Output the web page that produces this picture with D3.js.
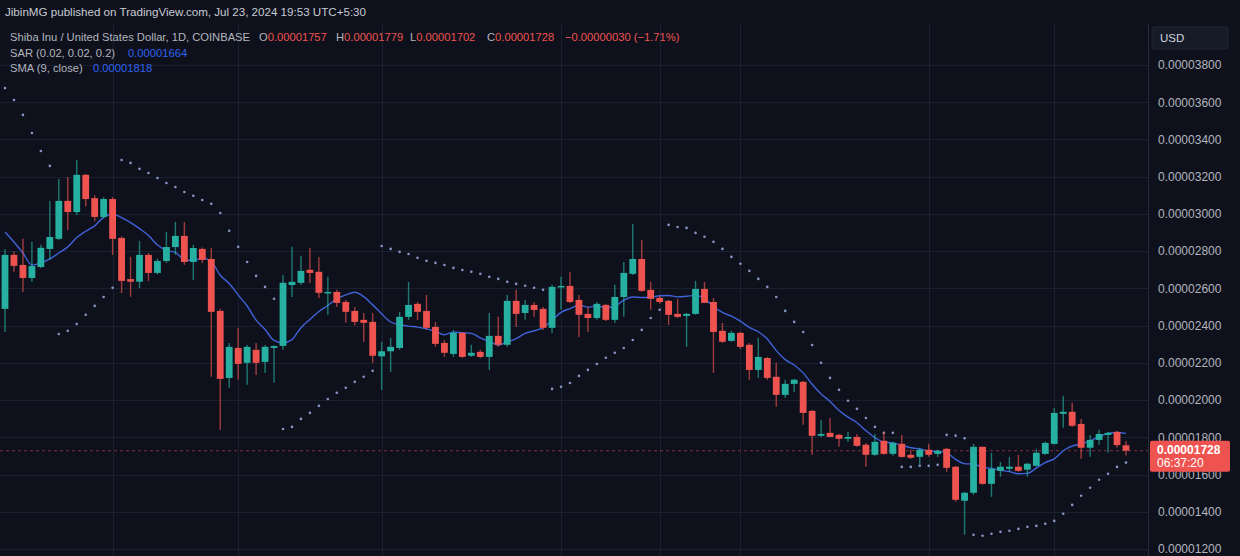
<!DOCTYPE html>
<html><head><meta charset="utf-8">
<script src="https://cdn.jsdelivr.net/npm/d3@7"></script>
<style>html,body{margin:0;padding:0;background:#0e111c;overflow:hidden}svg{display:block}</style>
</head><body><svg id="c" width="1240" height="556"></svg>
<script>
// ---- data (prices in USD) ----
const firstDate = "2024-03-20"; // daily candles, one per day
const openV  = [2490e-8,2780e-8,2726e-8,2656e-8,2715e-8,2812e-8,2866e-8,3070e-8,3010e-8,3210e-8,3085e-8,2984e-8,3080e-8,2871e-8,2650e-8,2636e-8,2780e-8,2683e-8,2747e-8,2822e-8,2882e-8,2742e-8,2812e-8,2758e-8,2479e-8,2119e-8,2280e-8,2200e-8,2270e-8,2205e-8,2280e-8,2291e-8,2618e-8,2630e-8,2700e-8,2689e-8,2576e-8,2581e-8,2527e-8,2479e-8,2431e-8,2420e-8,2235e-8,2262e-8,2280e-8,2447e-8,2517e-8,2479e-8,2393e-8,2307e-8,2248e-8,2361e-8,2238e-8,2259e-8,2232e-8,2345e-8,2297e-8,2533e-8,2468e-8,2511e-8,2490e-8,2388e-8,2608e-8,2613e-8,2538e-8,2463e-8,2441e-8,2511e-8,2431e-8,2554e-8,2678e-8,2758e-8,2592e-8,2549e-8,2533e-8,2463e-8,2452e-8,2463e-8,2597e-8,2527e-8,2372e-8,2318e-8,2361e-8,2297e-8,2162e-8,2226e-8,2125e-8,2028e-8,2087e-8,2098e-8,1942e-8,1808e-8,1824e-8,1813e-8,1792e-8,1802e-8,1760e-8,1706e-8,1781e-8,1711e-8,1765e-8,1706e-8,1695e-8,1733e-8,1711e-8,1738e-8,1642e-8,1459e-8,1502e-8,1749e-8,1550e-8,1620e-8,1631e-8,1642e-8,1626e-8,1647e-8,1711e-8,1765e-8,1926e-8,1937e-8,1872e-8,1744e-8,1786e-8,1813e-8,1829e-8,1757e-8];
const highV  = [2810e-8,2800e-8,2866e-8,2850e-8,2835e-8,3070e-8,3188e-8,3198e-8,3290e-8,3215e-8,3100e-8,3090e-8,3090e-8,2880e-8,2770e-8,2855e-8,2790e-8,2760e-8,2903e-8,2957e-8,2957e-8,2834e-8,2820e-8,2817e-8,2490e-8,2307e-8,2388e-8,2296e-8,2307e-8,2296e-8,2295e-8,2672e-8,2823e-8,2775e-8,2817e-8,2769e-8,2662e-8,2592e-8,2538e-8,2500e-8,2468e-8,2468e-8,2313e-8,2334e-8,2474e-8,2635e-8,2527e-8,2565e-8,2420e-8,2323e-8,2377e-8,2366e-8,2297e-8,2270e-8,2468e-8,2447e-8,2565e-8,2592e-8,2538e-8,2527e-8,2500e-8,2619e-8,2662e-8,2689e-8,2565e-8,2500e-8,2527e-8,2517e-8,2619e-8,2742e-8,2946e-8,2860e-8,2635e-8,2560e-8,2538e-8,2544e-8,2468e-8,2640e-8,2635e-8,2549e-8,2415e-8,2372e-8,2366e-8,2307e-8,2334e-8,2232e-8,2200e-8,2109e-8,2114e-8,2103e-8,1947e-8,1894e-8,1904e-8,1818e-8,1829e-8,1818e-8,1770e-8,1818e-8,1829e-8,1776e-8,1813e-8,1733e-8,1744e-8,1765e-8,1733e-8,1744e-8,1647e-8,1507e-8,1765e-8,1749e-8,1717e-8,1668e-8,1695e-8,1706e-8,1663e-8,1738e-8,1776e-8,1958e-8,2023e-8,1985e-8,1899e-8,1813e-8,1840e-8,1829e-8,1834e-8,1779e-8];
const lowV   = [2366e-8,2690e-8,2580e-8,2635e-8,2710e-8,2752e-8,2860e-8,2914e-8,2994e-8,3040e-8,2960e-8,2975e-8,2780e-8,2575e-8,2555e-8,2602e-8,2640e-8,2675e-8,2737e-8,2780e-8,2726e-8,2645e-8,2737e-8,2125e-8,1840e-8,2066e-8,2109e-8,2082e-8,2135e-8,2146e-8,2093e-8,2270e-8,2554e-8,2619e-8,2629e-8,2549e-8,2458e-8,2500e-8,2415e-8,2400e-8,2313e-8,2200e-8,2055e-8,2151e-8,2270e-8,2431e-8,2431e-8,2377e-8,2286e-8,2232e-8,2232e-8,2226e-8,2232e-8,2226e-8,2162e-8,2286e-8,2286e-8,2393e-8,2431e-8,2447e-8,2377e-8,2361e-8,2485e-8,2522e-8,2339e-8,2366e-8,2431e-8,2425e-8,2415e-8,2447e-8,2672e-8,2581e-8,2485e-8,2517e-8,2404e-8,2441e-8,2286e-8,2458e-8,2522e-8,2146e-8,2307e-8,2313e-8,2275e-8,2109e-8,2119e-8,2109e-8,1964e-8,2012e-8,2044e-8,1867e-8,1706e-8,1802e-8,1802e-8,1749e-8,1776e-8,1749e-8,1642e-8,1701e-8,1706e-8,1701e-8,1690e-8,1685e-8,1652e-8,1695e-8,1695e-8,1615e-8,1454e-8,1276e-8,1491e-8,1545e-8,1480e-8,1588e-8,1615e-8,1615e-8,1588e-8,1642e-8,1706e-8,1760e-8,1851e-8,1856e-8,1685e-8,1695e-8,1760e-8,1717e-8,1744e-8,1702e-8];
const closeV = [2780e-8,2721e-8,2656e-8,2720e-8,2818e-8,2876e-8,3070e-8,3010e-8,3210e-8,3080e-8,2984e-8,3080e-8,2866e-8,2640e-8,2636e-8,2780e-8,2683e-8,2747e-8,2822e-8,2882e-8,2742e-8,2817e-8,2753e-8,2474e-8,2114e-8,2286e-8,2194e-8,2286e-8,2200e-8,2286e-8,2290e-8,2630e-8,2635e-8,2694e-8,2683e-8,2576e-8,2581e-8,2522e-8,2474e-8,2420e-8,2415e-8,2238e-8,2262e-8,2286e-8,2447e-8,2511e-8,2474e-8,2388e-8,2302e-8,2254e-8,2361e-8,2232e-8,2254e-8,2232e-8,2345e-8,2297e-8,2533e-8,2463e-8,2511e-8,2484e-8,2388e-8,2608e-8,2613e-8,2527e-8,2458e-8,2441e-8,2517e-8,2431e-8,2554e-8,2683e-8,2758e-8,2587e-8,2544e-8,2527e-8,2458e-8,2447e-8,2463e-8,2597e-8,2522e-8,2366e-8,2313e-8,2361e-8,2286e-8,2162e-8,2232e-8,2119e-8,2028e-8,2087e-8,2109e-8,1931e-8,1808e-8,1818e-8,1802e-8,1792e-8,1802e-8,1754e-8,1706e-8,1776e-8,1711e-8,1770e-8,1695e-8,1690e-8,1733e-8,1706e-8,1728e-8,1636e-8,1464e-8,1502e-8,1749e-8,1550e-8,1631e-8,1642e-8,1642e-8,1620e-8,1658e-8,1717e-8,1770e-8,1931e-8,1937e-8,1862e-8,1744e-8,1786e-8,1818e-8,1824e-8,1758e-8,1728e-8];
// Parabolic SAR (0.02, 0.02, 0.2), one dot per candle
const sarV = [3676e-8,3612e-8,3532e-8,3435e-8,3338e-8,3258e-8,
  2355e-8,2372e-8,2409e-8,2458e-8,2506e-8,2554e-8,2603e-8,
  3290e-8,3274e-8,3242e-8,3220e-8,3193e-8,3166e-8,3145e-8,3118e-8,3097e-8,3075e-8,3054e-8,3005e-8,2909e-8,2823e-8,2742e-8,2667e-8,2608e-8,2544e-8,
  1845e-8,1856e-8,1899e-8,1931e-8,1969e-8,2006e-8,2039e-8,2066e-8,2098e-8,2125e-8,2157e-8,
  2828e-8,2812e-8,2796e-8,2785e-8,2764e-8,2748e-8,2737e-8,2726e-8,2710e-8,2699e-8,2689e-8,2678e-8,2662e-8,2651e-8,2635e-8,2624e-8,2614e-8,2603e-8,2592e-8,
  2060e-8,2071e-8,2092e-8,2130e-8,2162e-8,2194e-8,2227e-8,2254e-8,2280e-8,2323e-8,2377e-8,2441e-8,2485e-8,
  2941e-8,2930e-8,2925e-8,2898e-8,2877e-8,2850e-8,2812e-8,2769e-8,2732e-8,2694e-8,2651e-8,2608e-8,2554e-8,2479e-8,2420e-8,2366e-8,2296e-8,2200e-8,2119e-8,2055e-8,1996e-8,1953e-8,1904e-8,1856e-8,1824e-8,1824e-8,
  1641e-8,1641e-8,1647e-8,1647e-8,1652e-8,
  1813e-8,1809e-8,1795e-8,
  1276e-8,1271e-8,1282e-8,1292e-8,1298e-8,1308e-8,1319e-8,1324e-8,1335e-8,1351e-8,1389e-8,1437e-8,1486e-8,1529e-8,1572e-8,1604e-8,1641e-8,1664e-8];
// SMA(9, close): first 8 values (earlier closes are off-screen)
const smaLead = [2903e-8,2849e-8,2790e-8,2726e-8,2737e-8,2758e-8,2790e-8,2823e-8];
const smaLength = 9;
const priceTicks = [1200e-8,1400e-8,1600e-8,1800e-8,2000e-8,2200e-8,2400e-8,2600e-8,2800e-8,3000e-8,3200e-8,3400e-8,3600e-8,3800e-8];
const gridDates = ["2024-04-01","2024-04-15","2024-05-01","2024-05-21","2024-06-01","2024-06-10","2024-07-01","2024-07-15"];
const lastPrice = 1728e-8;
const countdown = "06:37:20";
const headerText = "JibinMG published on TradingView.com, Jul 23, 2024 19:53 UTC+5:30";
const symbolText = "Shiba Inu / United States Dollar, 1D, COINBASE";
const ohlcLabels = ["O","H","L","C"];
const ohlcValues = ["0.00001757","0.00001779","0.00001702","0.00001728"];
const changeText = "\u22120.00000030 (\u22121.71%)";
const sarLabel = "SAR (0.02, 0.02, 0.2)", sarValue = "0.00001664";
const smaLabel = "SMA (9, close)", smaValue = "0.00001818";

// ---- build ----
const parse = d3.timeParse("%Y-%m-%d");
const d0 = parse(firstDate);
const dates = closeV.map((_, i) => d3.timeDay.offset(d0, i));
const candles = dates.map((d, i) => ({d, o: openV[i], h: highV[i], l: lowV[i], c: closeV[i], sar: sarV[i]}));
const sma = candles.map((c, i) => i < smaLead.length ? smaLead[i] : d3.mean(closeV.slice(i - smaLength + 1, i + 1)));

const W = 1240, H = 556, plotRight = 1148;
const C = {bg:"#0e111c", grid:"#1b2030", up:"#26b0a2", down:"#ef5350", text:"#b2b5be", sma:"#3f62d8", sar:"#8795c4", blue:"#2f62f0"};
const ff = "Liberation Sans, Arial, sans-serif";
const svg = d3.select("#c");
svg.append("rect").attr("width", W).attr("height", H).attr("fill", C.bg);

const x = d3.scaleTime().domain([dates[0], dates[dates.length - 1]]).range([5, 1126]);
const y = d3.scaleLinear().domain([1200e-8, 3800e-8]).range([549, 65]);
const bw = 6.8;

const plot = svg.append("g");
// grid
plot.selectAll("line.h").data(priceTicks).join("line")
  .attr("x1", 0).attr("x2", plotRight).attr("y1", d => Math.round(y(d)) + 0.5).attr("y2", d => Math.round(y(d)) + 0.5)
  .attr("stroke", C.grid).attr("stroke-width", 1);
plot.selectAll("line.v").data(gridDates.map(parse)).join("line")
  .attr("x1", d => Math.round(x(d)) + 0.5).attr("x2", d => Math.round(x(d)) + 0.5).attr("y1", 24).attr("y2", H)
  .attr("stroke", C.grid).attr("stroke-width", 1);
// last price line
plot.append("line").attr("x1", 0).attr("x2", plotRight).attr("y1", y(lastPrice)).attr("y2", y(lastPrice))
  .attr("stroke", C.down).attr("stroke-opacity", 0.5).attr("stroke-dasharray", "3,3").attr("stroke-width", 1);
// SAR dots
plot.selectAll("circle.sar").data(candles).join("circle")
  .attr("cx", d => x(d.d)).attr("cy", d => y(d.sar)).attr("r", 1.3).attr("fill", C.sar);
// SMA line
plot.append("path").datum(candles.map((c, i) => [c.d, sma[i]]))
  .attr("d", d3.line().x(d => x(d[0])).y(d => y(d[1])).curve(d3.curveMonotoneX))
  .attr("fill", "none").attr("stroke", C.sma).attr("stroke-width", 1.4);
// candles
const cg = plot.selectAll("g.cd").data(candles).join("g");
cg.append("line").attr("x1", d => x(d.d)).attr("x2", d => x(d.d)).attr("y1", d => y(d.h)).attr("y2", d => y(d.l))
  .attr("stroke", d => d.c >= d.o ? C.up : C.down).attr("stroke-opacity", 0.65).attr("stroke-width", 1.4);
cg.append("rect").attr("x", d => x(d.d) - bw / 2).attr("width", bw)
  .attr("y", d => y(Math.max(d.o, d.c))).attr("height", d => Math.max(1.5, Math.abs(y(d.o) - y(d.c))))
  .attr("fill", d => d.c >= d.o ? C.up : C.down);

// price axis panel
svg.append("rect").attr("x", plotRight).attr("y", 0).attr("width", W - plotRight).attr("height", H).attr("fill", C.bg);
svg.append("line").attr("x1", plotRight + 0.5).attr("x2", plotRight + 0.5).attr("y1", 24).attr("y2", H).attr("stroke", "#262b3a");
const ax = svg.append("g").attr("transform", `translate(${plotRight + 4},0)`)
  .call(d3.axisRight(y).tickValues(priceTicks).tickSize(0).tickPadding(6).tickFormat(d3.format(".8f")));
ax.select(".domain").remove();
ax.selectAll("text").attr("fill", C.text).attr("font-family", ff).attr("font-size", 12);

// USD box
svg.append("rect").attr("x", 1152).attr("y", 27).attr("width", 76).attr("height", 22).attr("rx", 2).attr("fill", "#161b28").attr("stroke", "#202636");
svg.append("text").attr("x", 1160).attr("y", 42).text("USD").attr("fill", "#d1d4dc").attr("font-family", ff).attr("font-size", 11.5);

// last price label
svg.append("rect").attr("x", 1150).attr("y", y(lastPrice) - 10).attr("width", 80).attr("height", 31).attr("rx", 2).attr("fill", C.down);
svg.append("text").attr("x", 1157).attr("y", y(lastPrice) + 3).text(d3.format(".8f")(lastPrice)).attr("fill", "#fff").attr("font-family", ff).attr("font-size", 12).attr("font-weight", "bold");
svg.append("text").attr("x", 1157).attr("y", y(lastPrice) + 16).text(countdown).attr("fill", "#fff").attr("font-family", ff).attr("font-size", 12);

// header & legend
svg.append("text").attr("x", 5).attr("y", 16).text(headerText).attr("fill", "#c8cbd3").attr("font-family", ff).attr("font-size", 11.6);
svg.append("text").attr("x", 10).attr("y", 41).text(symbolText).attr("fill", C.text).attr("font-family", ff).attr("font-size", 11.2);
const ohlcX = [259, 336, 410, 487];
ohlcLabels.forEach((lab, i) => {
  const t = svg.append("text").attr("x", ohlcX[i]).attr("y", 41).attr("font-family", ff).attr("font-size", 11.2);
  t.append("tspan").text(lab).attr("fill", C.text);
  t.append("tspan").text(ohlcValues[i]).attr("fill", C.down);
});
svg.append("text").attr("x", 565).attr("y", 41).text(changeText).attr("fill", C.down).attr("font-family", ff).attr("font-size", 11.2);
svg.append("text").attr("x", 10).attr("y", 57).text(sarLabel).attr("fill", C.text).attr("font-family", ff).attr("font-size", 11.2);
svg.append("text").attr("x", 128).attr("y", 57).text(sarValue).attr("fill", C.blue).attr("font-family", ff).attr("font-size", 11.2);
svg.append("text").attr("x", 10).attr("y", 72).text(smaLabel).attr("fill", C.text).attr("font-family", ff).attr("font-size", 11.2);
svg.append("text").attr("x", 93).attr("y", 72).text(smaValue).attr("fill", C.blue).attr("font-family", ff).attr("font-size", 11.2);
</script></body></html>
